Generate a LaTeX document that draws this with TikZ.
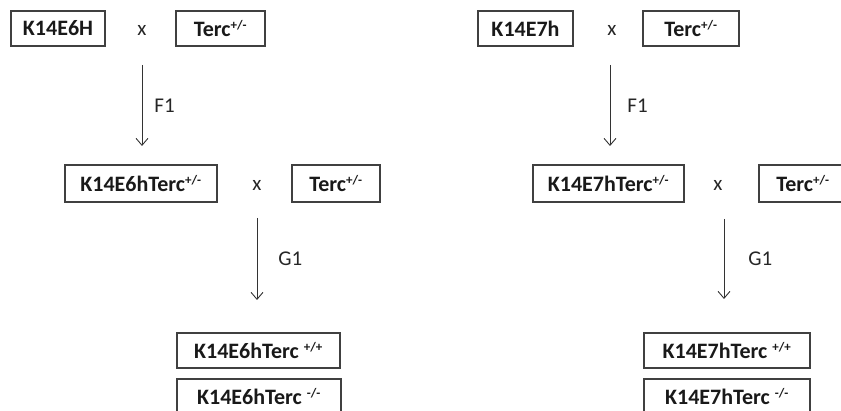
\documentclass[tikz,border=0pt]{standalone}
\usepackage{fontspec}
\setmainfont{Carlito}
\usetikzlibrary{arrows.meta}
\newcommand{\gsup}[1]{\textsuperscript{\fontsize{13}{15}\selectfont #1}}
\begin{document}
\begin{tikzpicture}[x=1pt,y=-1pt,
  gbox/.style={draw=black!75, line width=1.1pt, minimum height=35pt, inner sep=0pt, anchor=center,
    text=black!90, font=\fontsize{22}{26}\selectfont\bfseries},
  lbl/.style={text=black!85, font=\fontsize{21}{25}\selectfont, inner sep=0pt},
  arr/.style={-{Straight Barb[length=7pt,width=12pt]}, line width=0.9pt, draw=black!80}]
\useasboundingbox (0,0) rectangle (841,411);
\clip (0,0) rectangle (841,411);
% left branch
\node[gbox, minimum width=94pt] (A1) at (58,28.5) {K14E6H};
\node[lbl] (X1) at (142,30) {x};
\node[gbox, minimum width=89pt] (B1) at (220.5,28.5) {Terc\gsup{+/-}};
\coordinate (a1s) at (142,65);
\coordinate (a1e) at (142,146);
\draw[arr] (a1s) -- (a1e) node[lbl, midway, right=12pt] (F1a) {F1};
\node[gbox, minimum width=152pt, minimum height=37pt] (C1) at (141,183.5) {K14E6hTerc\gsup{+/-}};
\node[lbl] (X2) at (257,185) {x};
\node[gbox, minimum width=88pt, minimum height=37pt] (D1) at (336,183.5) {Terc\gsup{+/-}};
\coordinate (a2s) at (257,218);
\coordinate (a2e) at (257,300);
\draw[arr] (a2s) -- (a2e) node[lbl, midway, right=21pt] (G1a) {G1};
\node[gbox, minimum width=163pt] (E1) at (258.5,350.5) {K14E6hTerc \gsup{+/+}};
\node[gbox, minimum width=164pt] (H1) at (259,396.5) {K14E6hTerc \gsup{-/-}};
% right branch
\node[gbox, minimum width=95pt] (A2) at (525.5,28.5) {K14E7h};
\node[lbl] (X3) at (612,30) {x};
\node[gbox, minimum width=96pt] (B2) at (691,28.5) {Terc\gsup{+/-}};
\coordinate (a3s) at (610,65);
\coordinate (a3e) at (610,146);
\draw[arr] (a3s) -- (a3e) node[lbl, midway, right=17pt] (F1b) {F1};
\node[gbox, minimum width=151pt, minimum height=37pt] (C2) at (608.5,183.5) {K14E7hTerc\gsup{+/-}};
\node[lbl] (X4) at (718,185) {x};
\node[gbox, minimum width=88pt, minimum height=37pt] (D2) at (803,183.5) {Terc\gsup{+/-}};
\coordinate (a4s) at (724,219);
\coordinate (a4e) at (724,299);
\draw[arr] (a4s) -- (a4e) node[lbl, midway, right=24pt] (G1b) {G1};
\node[gbox, minimum width=166pt] (E2) at (727,350.5) {K14E7hTerc \gsup{+/+}};
\node[gbox, minimum width=166pt] (H2) at (727,396.5) {K14E7hTerc \gsup{-/-}};
\end{tikzpicture}
\end{document}
